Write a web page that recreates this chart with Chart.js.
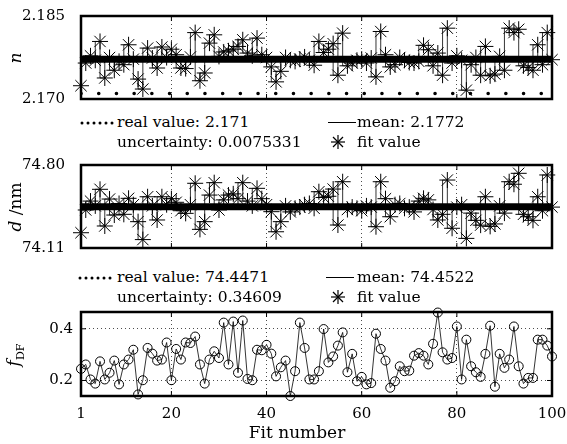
<!DOCTYPE html>
<html>
<head>
<meta charset="utf-8">
<script src="https://cdn.jsdelivr.net/npm/chart.js@4.4.0/dist/chart.umd.min.js"></script>
<style>
body{margin:0;background:#fff;}
#wrap{position:relative;width:567px;height:444px;font-family:"DejaVu Serif",serif;color:#000;overflow:hidden;}
canvas{position:absolute;left:0;}
.t{position:absolute;font-size:15.5px;line-height:20px;white-space:nowrap;z-index:2;}
.dots{position:absolute;z-index:2;}
.solid{position:absolute;width:28px;height:0;border-top:1.5px solid #000;z-index:2;}
.star{position:absolute;z-index:2;}
.yl{position:absolute;font-size:17px;white-space:nowrap;transform:translate(-50%,-50%) rotate(-90deg);z-index:2;}
.xl{position:absolute;font-size:17px;white-space:nowrap;transform:translate(-50%,-50%);z-index:2;}
</style>
</head>
<body>
<div id="wrap">
  <canvas id="c1" width="567" height="110" style="top:0"></canvas>
  <canvas id="c2" width="567" height="110" style="top:150px"></canvas>
  <canvas id="c3" width="567" height="144" style="top:300px"></canvas>

  <div class="yl" style="left:15px;top:58px"><i>n</i></div>
  <div class="yl" style="left:15px;top:207px"><i>d</i> /nm</div>
  <div class="yl" style="left:15px;top:355px"><i>f</i><sub style="font-size:11px">DF</sub></div>

  <!-- legend, panel 1 -->
  <svg class="dots" style="left:80px;top:120px" width="36" height="6"><g fill="#000"><circle cx="2" cy="3" r="1.5"/><circle cx="8" cy="3" r="1.5"/><circle cx="14" cy="3" r="1.5"/><circle cx="20" cy="3" r="1.5"/><circle cx="26" cy="3" r="1.5"/><circle cx="32" cy="3" r="1.5"/></g></svg>
  <div class="t" style="left:117px;top:112px">real value: 2.171</div>
  <div class="solid" style="left:328px;top:122px"></div>
  <div class="t" style="left:357px;top:112px">mean: 2.1772</div>
  <div class="t" style="left:117px;top:132px">uncertainty: 0.0075331</div>
  <svg class="star" style="left:331px;top:135px" width="14" height="14"><g stroke="#000" stroke-width="1.2"><line x1="7" y1="0" x2="7" y2="14"/><line x1="0" y1="7" x2="14" y2="7"/><line x1="2" y1="2" x2="12" y2="12"/><line x1="12" y1="2" x2="2" y2="12"/></g></svg>
  <div class="t" style="left:357px;top:132px">fit value</div>

  <!-- legend, panel 2 -->
  <svg class="dots" style="left:78px;top:275px" width="36" height="6"><g fill="#000"><circle cx="2" cy="3" r="1.5"/><circle cx="8" cy="3" r="1.5"/><circle cx="14" cy="3" r="1.5"/><circle cx="20" cy="3" r="1.5"/><circle cx="26" cy="3" r="1.5"/><circle cx="32" cy="3" r="1.5"/></g></svg>
  <div class="t" style="left:117px;top:267px">real value: 74.4471</div>
  <div class="solid" style="left:326px;top:277px"></div>
  <div class="t" style="left:357px;top:267px">mean: 74.4522</div>
  <div class="t" style="left:117px;top:287px">uncertainty: 0.34609</div>
  <svg class="star" style="left:331px;top:290px" width="14" height="14"><g stroke="#000" stroke-width="1.2"><line x1="7" y1="0" x2="7" y2="14"/><line x1="0" y1="7" x2="14" y2="7"/><line x1="2" y1="2" x2="12" y2="12"/><line x1="12" y1="2" x2="2" y2="12"/></g></svg>
  <div class="t" style="left:357px;top:287px">fit value</div>

  <div class="xl" style="left:297px;top:432px">Fit number</div>
</div>

<script>
// fit numbers 1..100
var fitNumber = [];
for (var k = 1; k <= 100; k++) fitNumber.push(k);
var xTicks = [1, 20, 40, 60, 80, 100];

// refractive index n
var nReal = 2.171;
var nMean = 2.1772;
var nFit = [
  2.1724,2.1765,2.1778,2.1770,2.1804,2.1738,2.1775,2.1752,2.1768,2.1762,
  2.1798,2.1772,2.1736,2.1718,2.1792,2.1774,2.1756,2.1794,2.1775,2.1790,
  2.1780,2.1756,2.1755,2.1776,2.1820,2.1733,2.1747,2.1801,2.1816,2.1777,
  2.1785,2.1787,2.1790,2.1795,2.1807,2.1783,2.1778,2.1810,2.1780,2.1775,
  2.1758,2.1731,2.1750,2.1775,2.1770,2.1768,2.1772,2.1776,2.1770,2.1761,
  2.1804,2.1784,2.1790,2.1800,2.1743,2.1819,2.1760,2.1765,2.1770,2.1772,
  2.1765,2.1774,2.1740,2.1822,2.1780,2.1758,2.1762,2.1775,2.1770,2.1766,
  2.1765,2.1768,2.1797,2.1789,2.1760,2.1783,2.1743,2.1828,2.1765,2.1778,
  2.1770,2.1716,2.1762,2.1775,2.1743,2.1795,2.1742,2.1745,2.1777,2.1752,
  2.1828,2.1820,2.1826,2.1760,2.1757,2.1752,2.1798,2.1762,2.1820,2.1771
];
var nTicks = [2.170, 2.185];

// thickness d (nm)
var dReal = 74.4471;
var dMean = 74.4522;
var dFit = [
  74.237,74.426,74.500,74.460,74.598,74.293,74.517,74.384,74.480,74.390,
  74.523,74.470,74.329,74.180,74.536,74.460,74.343,74.536,74.470,74.520,
  74.490,74.420,74.398,74.470,74.648,74.265,74.329,74.550,74.653,74.426,
  74.510,74.550,74.560,74.520,74.653,74.500,74.460,74.606,74.520,74.470,
  74.412,74.245,74.329,74.460,74.410,74.440,74.450,74.470,74.480,74.440,
  74.578,74.530,74.540,74.600,74.301,74.661,74.430,74.450,74.440,74.420,
  74.460,74.450,74.287,74.661,74.520,74.370,74.470,74.480,74.440,74.450,
  74.410,74.500,74.523,74.510,74.430,74.343,74.390,74.675,74.274,74.450,
  74.470,74.190,74.400,74.340,74.300,74.536,74.290,74.310,74.460,74.400,
  74.661,74.640,74.731,74.390,74.370,74.340,74.536,74.420,74.717,74.450
];
var dTicks = [74.11, 74.80];

// f_DF
var fDF = [
  0.245,0.262,0.204,0.188,0.274,0.204,0.230,0.277,0.185,0.262,
  0.281,0.319,0.146,0.201,0.326,0.304,0.277,0.281,0.347,0.201,
  0.322,0.281,0.347,0.345,0.370,0.262,0.188,0.281,0.313,0.287,
  0.424,0.262,0.428,0.230,0.432,0.206,0.201,0.319,0.317,0.338,
  0.304,0.216,0.251,0.277,0.140,0.236,0.424,0.326,0.204,0.204,
  0.236,0.399,0.270,0.293,0.335,0.386,0.232,0.303,0.197,0.214,
  0.185,0.190,0.381,0.322,0.277,0.172,0.197,0.255,0.236,0.238,
  0.296,0.306,0.296,0.262,0.342,0.463,0.309,0.281,0.287,0.409,
  0.204,0.358,0.255,0.232,0.214,0.303,0.412,0.176,0.303,0.249,
  0.281,0.409,0.255,0.188,0.210,0.210,0.358,0.358,0.335,0.293
];
var fTicks = [0.2, 0.4];

function pts(vals) {
  return vals.map(function(v, i){ return {x: fitNumber[i], y: v}; });
}
function flat(v) {
  return [{x: fitNumber[0], y: v}, {x: fitNumber[fitNumber.length - 1], y: v}];
}

// frame + inner tick marks
var framePlugin = {
  id: 'frame',
  beforeDatasetsDraw: function(chart, args, opts) {
    var a = chart.chartArea, c = chart.ctx;
    var xs = chart.scales.x, ys = chart.scales.y;
    c.save();
    c.strokeStyle = '#000';
    c.lineWidth = 1;
    [20, 40, 60, 80].forEach(function(v){
      var px = xs.getPixelForValue(v);
      c.beginPath();
      c.moveTo(px, a.bottom); c.lineTo(px, a.bottom - 5);
      c.moveTo(px, a.top); c.lineTo(px, a.top + 5);
      c.stroke();
    });
    (opts.yMarks || []).forEach(function(v){
      var py = ys.getPixelForValue(v);
      c.beginPath();
      c.moveTo(a.left, py); c.lineTo(a.left + 5, py);
      c.moveTo(a.right, py); c.lineTo(a.right - 5, py);
      c.stroke();
    });
    c.lineWidth = 2.5;
    c.strokeRect(a.left, a.top, a.right - a.left, a.bottom - a.top);
    c.restore();
  }
};

var tickFont = {family: 'DejaVu Serif', size: 15};

function makePanel(id, cfg) {
  return new Chart(document.getElementById(id), {
    type: 'line',
    data: {datasets: cfg.datasets},
    plugins: [framePlugin],
    options: {
      responsive: false,
      animation: false,
      devicePixelRatio: 1,
      layout: {padding: {top: cfg.padTop, right: 15, left: 0, bottom: 0}},
      plugins: {legend: {display: false}, tooltip: {enabled: false}, frame: {yMarks: cfg.yMarks}},
      scales: {
        x: {
          type: 'linear', min: 1, max: 100,
          afterBuildTicks: function(s){ s.ticks = xTicks.map(function(v){ return {value: v}; }); },
          afterFit: function(s){ s.height = cfg.xHeight; s.paddingLeft = 0; s.paddingRight = 0; },
          ticks: {display: cfg.xLabels, color: '#000', font: tickFont, padding: 9, maxRotation: 0,
                  callback: function(v){ return String(v); }},
          grid: {color: '#000', lineWidth: 0.7, drawTicks: false},
          border: {display: false, dash: [1, 3]}
        },
        y: {
          type: 'linear', min: cfg.yMin, max: cfg.yMax,
          afterBuildTicks: function(s){ s.ticks = cfg.yTicks.map(function(v){ return {value: v}; }); },
          afterFit: function(s){ s.width = 81; s.paddingTop = 0; s.paddingBottom = 0; },
          ticks: {color: '#000', font: tickFont, padding: cfg.yPad,
                  callback: function(v){ return Number(v).toFixed(cfg.dec); }},
          grid: {display: cfg.yGrid, color: '#000', lineWidth: 0.7, drawTicks: false},
          border: {display: false, dash: [1, 3]}
        }
      }
    }
  });
}

function fitPanelSets(fit, mean, real) {
  return [
    {data: pts(fit), borderColor: '#000', borderWidth: 0.8, stepped: 'after',
     pointStyle: 'star', pointRadius: 8, pointBorderWidth: 1, pointBorderColor: '#000',
     pointBackgroundColor: 'rgba(0,0,0,0)', clip: false, order: 1},
    {data: flat(mean), borderColor: '#000', borderWidth: 7, pointRadius: 0, order: 2},
    {data: flat(real), borderColor: '#000', borderWidth: 3.5, borderDash: [0.1, 17.6],
     borderCapStyle: 'round', pointRadius: 0, order: 3}
  ];
}

makePanel('c1', {
  datasets: fitPanelSets(nFit, nMean, nReal),
  padTop: 16, xHeight: 11, xLabels: false,
  yMin: nTicks[0], yMax: nTicks[1], yTicks: nTicks, dec: 3, yPad: 16, yGrid: false, yMarks: []
});

makePanel('c2', {
  datasets: fitPanelSets(dFit, dMean, dReal),
  padTop: 15, xHeight: 12, xLabels: false,
  yMin: dTicks[0], yMax: dTicks[1], yTicks: dTicks, dec: 2, yPad: 16, yGrid: false, yMarks: []
});

makePanel('c3', {
  datasets: [
    {data: pts(fDF), borderColor: '#000', borderWidth: 0.8,
     pointStyle: 'circle', pointRadius: 4.5, pointBorderWidth: 1, pointBorderColor: '#000',
     pointBackgroundColor: 'rgba(0,0,0,0)', clip: false}
  ],
  padTop: 12, xHeight: 48, xLabels: true,
  yMin: 0.14, yMax: 0.465, yTicks: fTicks, dec: 1, yPad: 8, yGrid: true, yMarks: fTicks
});
</script>
</body>
</html>
